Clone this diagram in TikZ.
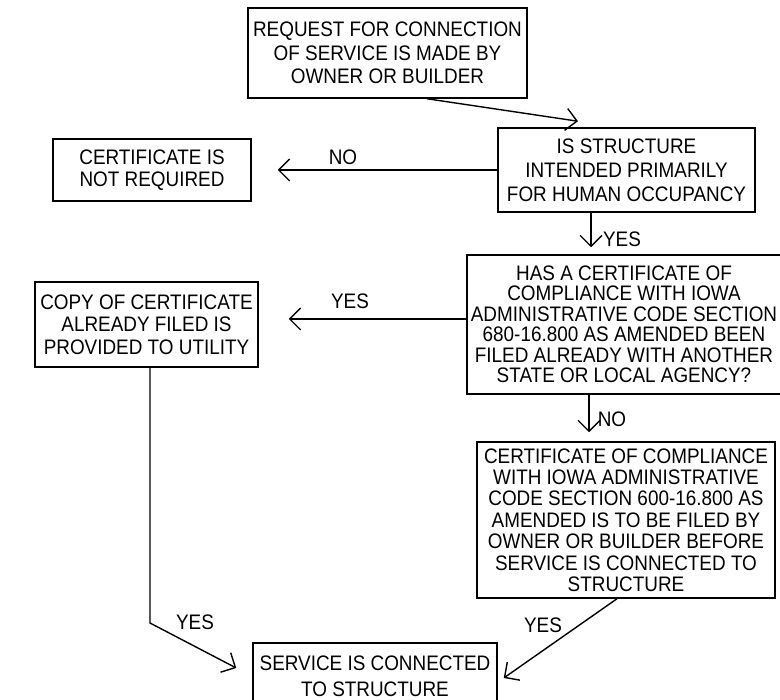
\documentclass[tikz,border=0pt]{standalone}
\usepackage{fontspec}
\setmainfont[FakeStretch=0.9]{Liberation Sans}
\usetikzlibrary{arrows.meta}
\newcommand\bxfont[1]{\fontsize{21}{#1}\selectfont}
\tikzset{
  box/.style={draw, line width=1.5pt, inner sep=0pt, align=center},
  lbl/.style={inner sep=0pt, font=\bxfont{22}},
  conn/.style={line width=1.4pt, -{Straight Barb[length=11pt,width=22pt,line width=1.4pt]}},
}
\begin{document}
\begin{tikzpicture}[x=1pt,y=-1pt]
\useasboundingbox[fill=white] (0,0) rectangle (780,700);
\node[box, font=\bxfont{23.5}, minimum width=279pt, minimum height=90pt] (b1) at (387.5,53)
  {REQUEST FOR CONNECTION\\OF SERVICE IS MADE BY\\OWNER OR BUILDER};
\node[box, font=\bxfont{24}, minimum width=257pt, minimum height=84pt] (b2) at (626.5,170)
  {IS STRUCTURE\\INTENDED PRIMARILY\\FOR HUMAN OCCUPANCY};
\node[box, font=\bxfont{21.5}, minimum width=198pt, minimum height=62pt] (nr) at (152,170)
  {CERTIFICATE IS\\NOT REQUIRED};
\node[box, font=\bxfont{20.5}, minimum width=314pt, minimum height=139pt] (b3) at (624,324.5)
  {HAS A CERTIFICATE OF\\COMPLIANCE WITH IOWA\\ADMINISTRATIVE CODE SECTION\\680-16.800 AS AMENDED BEEN\\FILED ALREADY WITH ANOTHER\\STATE OR LOCAL AGENCY?};
\node[box, font=\bxfont{22.5}, minimum width=223pt, minimum height=85pt] (b4) at (146.5,324.5)
  {COPY OF CERTIFICATE\\ALREADY FILED IS\\PROVIDED TO UTILITY};
\node[box, font=\bxfont{21.4}, minimum width=298pt, minimum height=156pt] (b5) at (626,520)
  {CERTIFICATE OF COMPLIANCE\\WITH IOWA ADMINISTRATIVE\\CODE SECTION 600-16.800 AS\\AMENDED IS TO BE FILED BY\\OWNER OR BUILDER BEFORE\\SERVICE IS CONNECTED TO\\STRUCTURE};
\node[box, font=\bxfont{26}, minimum width=244pt, minimum height=66pt] (b6) at (375,676)
  {SERVICE IS CONNECTED\\TO STRUCTURE};

\coordinate (c1) at (591,0);
\coordinate (c2) at (589,0);
\coordinate (c3) at (150,0);
\coordinate (c4) at (150,623);

\draw[conn] ([xshift=39.5pt]b1.south) -- ([xshift=-48.5pt,yshift=6pt]b2.north);
\draw[conn, shorten >=26pt] (b2.west) -- (nr.east);
\draw[conn, shorten >=7pt] (b2.south -| c1) -- (b3.north -| c1);
\draw[conn, shorten >=30pt] ([yshift=5.5pt]b3.west) -- ([yshift=5.5pt]b4.east);
\draw[conn, shorten >=9pt] (b3.south -| c2) -- (b5.north -| c2);
\draw[conn] ([xshift=-9pt]b5.south) -- ([xshift=6pt,yshift=-2pt]b6.east);
\draw[conn] (b4.south -| c3) -- (c4) -- ([xshift=-16pt,yshift=8pt]b6.west);

\node[lbl] (l1) at (343,157) {NO};
\node[lbl] (l2) at (622,239) {YES};
\node[lbl] (l3) at (350,301) {YES};
\node[lbl] (l4) at (612,419) {NO};
\node[lbl] (l5) at (543,625) {YES};
\node[lbl] (l6) at (195,622) {YES};
\end{tikzpicture}
\end{document}
